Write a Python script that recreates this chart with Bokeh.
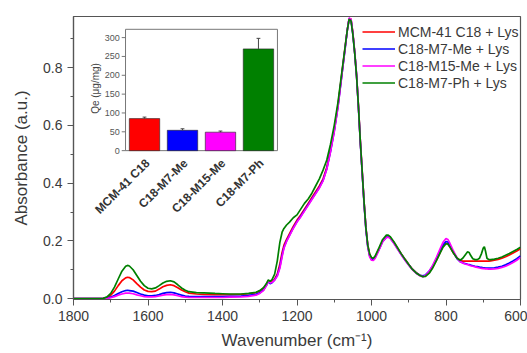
import math
from bokeh.plotting import figure
from bokeh.models import Range1d, FixedTicker, PrintfTickFormatter, ColumnDataSource, Legend, LegendItem
from bokeh.core.properties import value
from bokeh.embed import file_html
from bokeh.resources import INLINE

# ---------------- data ----------------
wavenumber = [1800, 1750, 1720, 1710, 1700, 1690, 1680, 1670, 1660, 1655, 1650, 1640, 1630, 1620, 1610,
              1600, 1590, 1580, 1570, 1560, 1550, 1540, 1530, 1520, 1510, 1500, 1490, 1470, 1450, 1420,
              1400, 1380, 1350, 1330, 1310, 1300, 1290, 1282, 1277, 1272, 1267, 1260, 1253, 1246, 1240,
              1235, 1228, 1220, 1210, 1200, 1190, 1180, 1170, 1160, 1150, 1140, 1130, 1120, 1110, 1100,
              1090, 1080, 1070, 1065, 1060, 1055, 1050, 1045, 1040, 1035, 1030, 1025, 1020, 1015, 1010,
              1005, 1000, 995, 990, 980, 970, 960, 955, 950, 940, 930, 920, 910, 900, 890,
              880, 870, 862, 855, 845, 835, 825, 815, 808, 800, 795, 790, 780, 770, 762,
              755, 748, 742, 738, 734, 728, 722, 716, 710, 705, 700, 697, 694, 690, 685,
              680, 670, 660, 650, 640, 630, 620, 610, 600]

mcm41_c18 = [0.0, 0.0, 0.001, 0.004, 0.012, 0.026, 0.045, 0.062, 0.072, 0.074, 0.073, 0.065, 0.052, 0.040, 0.030,
             0.025, 0.024, 0.026, 0.033, 0.041, 0.046, 0.048, 0.045, 0.038, 0.030, 0.024, 0.019, 0.016, 0.015, 0.014,
             0.014, 0.014, 0.015, 0.017, 0.021, 0.026, 0.036, 0.050, 0.062, 0.055, 0.058, 0.068, 0.085, 0.120, 0.160,
             0.185, 0.205, 0.225, 0.250, 0.272, 0.290, 0.310, 0.330, 0.350, 0.370, 0.390, 0.415, 0.455, 0.515, 0.585,
             0.670, 0.775, 0.880, 0.930, 0.970, 0.968, 0.920, 0.850, 0.770, 0.665, 0.545, 0.440, 0.335, 0.245, 0.185,
             0.152, 0.140, 0.138, 0.145, 0.172, 0.200, 0.215, 0.216, 0.212, 0.195, 0.175, 0.155, 0.136, 0.118, 0.102,
             0.090, 0.081, 0.077, 0.079, 0.090, 0.110, 0.135, 0.162, 0.180, 0.192, 0.190, 0.180, 0.158, 0.140, 0.132,
             0.130, 0.130, 0.130, 0.130, 0.130, 0.130, 0.130, 0.130, 0.130, 0.130, 0.130, 0.130, 0.130, 0.130, 0.130,
             0.131, 0.133, 0.136, 0.140, 0.145, 0.151, 0.158, 0.165, 0.173]

c18_m7_me = [0.0, 0.0, 0.001, 0.002, 0.005, 0.011, 0.018, 0.024, 0.028, 0.029, 0.028, 0.026, 0.021, 0.016, 0.012,
             0.010, 0.010, 0.011, 0.014, 0.018, 0.021, 0.022, 0.020, 0.016, 0.012, 0.009, 0.008, 0.007, 0.007, 0.007,
             0.007, 0.008, 0.009, 0.011, 0.015, 0.020, 0.030, 0.046, 0.060, 0.052, 0.055, 0.065, 0.080, 0.110, 0.150,
             0.178, 0.200, 0.220, 0.245, 0.267, 0.285, 0.305, 0.325, 0.345, 0.365, 0.385, 0.410, 0.450, 0.510, 0.580,
             0.665, 0.770, 0.875, 0.930, 0.970, 0.965, 0.915, 0.850, 0.770, 0.660, 0.540, 0.435, 0.330, 0.240, 0.180,
             0.148, 0.137, 0.136, 0.143, 0.170, 0.198, 0.213, 0.214, 0.210, 0.193, 0.173, 0.153, 0.134, 0.117, 0.101,
             0.089, 0.081, 0.079, 0.082, 0.095, 0.115, 0.140, 0.168, 0.186, 0.198, 0.196, 0.185, 0.160, 0.138, 0.128,
             0.124, 0.121, 0.119, 0.118, 0.116, 0.114, 0.112, 0.111, 0.109, 0.108, 0.107, 0.107, 0.106, 0.106, 0.106,
             0.106, 0.107, 0.109, 0.112, 0.117, 0.123, 0.130, 0.138, 0.148]

c18_m15_me = [0.0, 0.0, 0.0, 0.001, 0.003, 0.007, 0.012, 0.016, 0.019, 0.019, 0.019, 0.017, 0.013, 0.010, 0.007,
              0.006, 0.006, 0.007, 0.009, 0.012, 0.014, 0.015, 0.013, 0.010, 0.007, 0.005, 0.004, 0.004, 0.004, 0.004,
              0.004, 0.005, 0.006, 0.008, 0.012, 0.018, 0.028, 0.045, 0.062, 0.054, 0.056, 0.064, 0.078, 0.105, 0.145,
              0.175, 0.198, 0.218, 0.243, 0.265, 0.283, 0.303, 0.323, 0.343, 0.363, 0.383, 0.408, 0.448, 0.508, 0.578,
              0.663, 0.770, 0.875, 0.930, 0.972, 0.968, 0.920, 0.855, 0.775, 0.665, 0.545, 0.440, 0.335, 0.245, 0.180,
              0.145, 0.133, 0.132, 0.140, 0.168, 0.197, 0.212, 0.213, 0.209, 0.192, 0.172, 0.152, 0.133, 0.116, 0.100,
              0.088, 0.079, 0.076, 0.080, 0.095, 0.117, 0.145, 0.175, 0.195, 0.208, 0.205, 0.193, 0.165, 0.140, 0.128,
              0.123, 0.120, 0.118, 0.116, 0.114, 0.112, 0.110, 0.108, 0.106, 0.105, 0.104, 0.104, 0.103, 0.103, 0.102,
              0.102, 0.103, 0.105, 0.108, 0.112, 0.118, 0.125, 0.133, 0.143]

c18_m7_ph = [0.0, 0.0, 0.001, 0.006, 0.018, 0.040, 0.068, 0.095, 0.112, 0.115, 0.113, 0.100, 0.080, 0.060, 0.045,
             0.036, 0.034, 0.037, 0.045, 0.054, 0.060, 0.062, 0.058, 0.048, 0.037, 0.029, 0.024, 0.021, 0.020, 0.018,
             0.017, 0.016, 0.016, 0.018, 0.022, 0.028, 0.038, 0.052, 0.065, 0.060, 0.066, 0.085, 0.130, 0.195, 0.230,
             0.243, 0.255, 0.265, 0.280, 0.290, 0.310, 0.330, 0.345, 0.365, 0.390, 0.415, 0.445, 0.480, 0.535, 0.600,
             0.680, 0.780, 0.880, 0.930, 0.968, 0.962, 0.915, 0.850, 0.770, 0.665, 0.545, 0.440, 0.335, 0.245, 0.185,
             0.155, 0.142, 0.140, 0.148, 0.176, 0.205, 0.220, 0.220, 0.215, 0.197, 0.176, 0.155, 0.136, 0.118, 0.101,
             0.089, 0.080, 0.076, 0.077, 0.088, 0.108, 0.133, 0.160, 0.178, 0.190, 0.189, 0.180, 0.158, 0.140, 0.133,
             0.140, 0.152, 0.162, 0.160, 0.150, 0.138, 0.135, 0.135, 0.140, 0.155, 0.175, 0.180, 0.165, 0.140, 0.135,
             0.135, 0.137, 0.140, 0.144, 0.150, 0.156, 0.163, 0.170, 0.178]

series_names = ["MCM-41 C18 + Lys", "C18-M7-Me + Lys", "C18-M15-Me + Lys", "C18-M7-Ph + Lys"]
series_colors = ["#ff0000", "#0000ff", "#ff00ff", "#008000"]

x_ticks = [1800, 1600, 1400, 1200, 1000, 800, 600]
x_minor = [1700, 1500, 1300, 1100, 900, 700]
y_ticks = [0.0, 0.2, 0.4, 0.6, 0.8]
y_minor = [0.1, 0.3, 0.5, 0.7, 0.9]

# inset (adsorbed amount)
inset_categories = ["MCM-41 C18", "C18-M7-Me", "C18-M15-Me", "C18-M7-Ph"]
inset_values = [85, 54, 49, 270]
inset_errors = [4, 4, 3, 28]
inset_colors = ["#ff0000", "#0000ff", "#ff00ff", "#008000"]
inset_ticks = [0, 50, 100, 150, 200, 250, 300]

FONT = "Liberation Sans"
TXT = "#3a3a3a"

p = figure(width=527, height=353, output_backend="svg", toolbar_location=None,
           x_range=Range1d(1800, 600), y_range=Range1d(-0.003, 0.977),
           min_border_left=73, min_border_right=7, min_border_top=16, min_border_bottom=54)
p.title.visible = False
p.grid.visible = False
p.outline_line_color = "#555555"
p.outline_line_width = 1.2
p.background_fill_color = "white"
p.border_fill_color = "white"

for ax in (p.xaxis[0], p.yaxis[0]):
    ax.axis_line_color = "#555555"
    ax.axis_line_width = 1.2
    ax.major_tick_line_color = "#555555"
    ax.minor_tick_line_color = "#555555"
    ax.major_tick_out = 6
    ax.major_tick_in = 0
    ax.minor_tick_out = 3
    ax.minor_tick_in = 0
    ax.major_label_text_font = FONT
    ax.major_label_text_font_size = "14px"
    ax.major_label_text_color = TXT
    ax.axis_label_text_font = FONT
    ax.axis_label_text_font_size = "17px"
    ax.axis_label_text_font_style = "normal"
    ax.axis_label_text_color = TXT

p.xaxis.ticker = FixedTicker(ticks=x_ticks, minor_ticks=x_minor)
p.yaxis.ticker = FixedTicker(ticks=y_ticks, minor_ticks=y_minor)
p.yaxis.formatter = PrintfTickFormatter(format="%.1f")
p.xaxis.axis_label = "Wavenumber (cm\u207b\u00b9)"
p.yaxis.axis_label = "Absorbance (a.u.)"
p.xaxis.major_label_standoff = 5
p.xaxis.axis_label_standoff = 7
p.yaxis.major_label_standoff = 5
p.yaxis.axis_label_standoff = 9

# ---------------- inset via extra ranges ----------------
p.extra_x_ranges = {"ix": Range1d(-0.87, 10.9)}
p.extra_y_ranges = {"iy": Range1d(-395, 356)}

ix = list(range(1, len(inset_categories) + 1))
p.quad(left=[0.5], right=[4.5], bottom=[0], top=[322], fill_color="white", line_color="#777777",
       line_width=1, x_range_name="ix", y_range_name="iy")

# spectra
items = []
for name, ys, col in zip(series_names,
                         [mcm41_c18, c18_m7_me, c18_m15_me, c18_m7_ph], series_colors):
    r = p.line(wavenumber, ys, line_color=col, line_width=1.7)
    items.append(LegendItem(label=name, renderers=[r]))

# bars
src = ColumnDataSource(dict(x=ix, top=inset_values, color=inset_colors,
                            hi=[v + e for v, e in zip(inset_values, inset_errors)]))
p.vbar(x="x", top="top", bottom=0, width=0.8, fill_color="color", line_color="#222222", line_width=0.6,
       source=src, x_range_name="ix", y_range_name="iy")
p.segment(x0="x", x1="x", y0="top", y1="hi", line_color="#444444", line_width=1,
          source=src, x_range_name="ix", y_range_name="iy")
p.segment(x0=[v - 0.05 for v in ix], x1=[v + 0.05 for v in ix], y0=src.data["hi"], y1=src.data["hi"],
          line_color="#444444", line_width=1, x_range_name="ix", y_range_name="iy")

# inset y ticks and labels
p.segment(x0=[0.4] * len(inset_ticks), x1=[0.5] * len(inset_ticks), y0=inset_ticks, y1=inset_ticks,
          line_color="#777777", line_width=1, x_range_name="ix", y_range_name="iy")
p.text(x=[0.35] * len(inset_ticks), y=inset_ticks, text=[str(t) for t in inset_ticks],
       text_align="right", text_baseline="middle", text_font=value(FONT), text_font_size="9px",
       text_color="#555555", x_range_name="ix", y_range_name="iy")
p.text(x=[-0.3], y=[165], text=["Qe (\u03bcg/mg)"], angle=math.pi / 2, text_align="center",
       text_baseline="middle", text_font=value(FONT), text_font_size="10px", text_color="#444444",
       x_range_name="ix", y_range_name="iy")
p.text(x=[v + 0.08 for v in ix], y=[-28] * len(ix), text=inset_categories, angle=math.pi / 4,
       text_align="right", text_baseline="middle", text_font=value(FONT), text_font_size="12px",
       text_font_style="bold", text_color="#333333", x_range_name="ix", y_range_name="iy")

legend = Legend(items=items, location=(282, 201), background_fill_alpha=0, border_line_alpha=0,
                label_text_font=FONT, label_text_font_size="14px", label_text_color=TXT,
                glyph_width=33, glyph_height=17, label_standoff=3, spacing=0, padding=7, margin=0,
                label_height=17)
p.add_layout(legend)

open("out.html", "w").write(file_html(p, INLINE))
